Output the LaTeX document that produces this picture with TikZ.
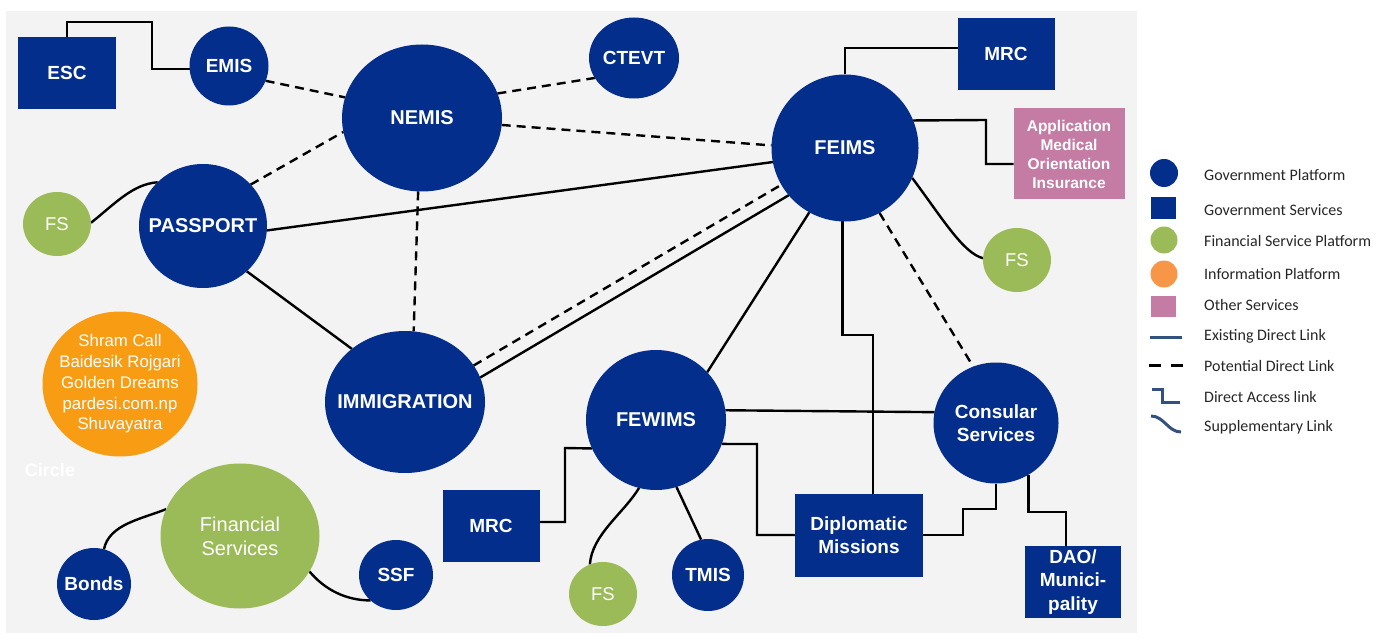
\documentclass[tikz,border=0pt]{standalone}
\usepackage{fontspec}
\setmainfont{Liberation Sans}
\newfontfamily\legfont{Carlito}
\usetikzlibrary{shapes.geometric}
\definecolor{navy}{RGB}{3,46,139}
\definecolor{fgreen}{RGB}{155,187,89}
\definecolor{infoorange}{RGB}{248,156,20}
\definecolor{legorange}{RGB}{247,150,70}
\definecolor{pinkbox}{RGB}{196,124,164}
\definecolor{bgc}{RGB}{244,243,243}
\definecolor{legnavy}{RGB}{51,80,128}
\definecolor{legtext}{RGB}{38,38,38}
\pgfdeclarelayer{bgl}
\pgfdeclarelayer{back}
\pgfsetlayers{bgl,back,main}
\tikzset{
  base/.style={inner sep=0pt, outer sep=0pt},
  gp/.style={base, ellipse, fill=navy},
  gs/.style={base, rectangle, fill=navy},
  fsp/.style={base, ellipse, fill=fgreen},
  ip/.style={base, ellipse, fill=infoorange},
  os/.style={base, rectangle, fill=pinkbox},
  navytxt/.style={text=white, font=\fontsize{19}{23.5}\selectfont\bfseries, align=center},
  bigtxt/.style={text=white, font=\fontsize{20}{24}\selectfont\bfseries, align=center},
  greentxt/.style={text=white, font=\fontsize{18.5}{22}\selectfont, align=center},
  fintxt/.style={text=white, font=\fontsize{20}{24}\selectfont, align=center},
  infotxt/.style={text=white, font=\fontsize{16.8}{20.8}\selectfont, align=center},
  pinktxt/.style={text=white, font=\fontsize{15.5}{19}\selectfont\bfseries, align=center},
  legtxt/.style={text=legtext, font=\legfont\fontsize{16}{19}\selectfont, anchor=west, inner sep=0pt},
  link/.style={draw=black, line width=2.4pt},
  pot/.style={draw=black, line width=2.4pt, dash pattern=on 9pt off 6pt},
  legline/.style={draw=legnavy, line width=3pt},
}
\begin{document}
\begin{tikzpicture}[x=1pt,y=-1pt]
\useasboundingbox (0,0) rectangle (1378,639);
\begin{pgfonlayer}{bgl}
\fill[bgc] (6,11) rectangle (1137,633);
\end{pgfonlayer}

% nodes
\node[gs, minimum width=98pt, minimum height=72pt, navytxt] (esc) at (67,73) {ESC};
\node[gp, minimum width=79pt, minimum height=79pt, label={[navytxt]center:EMIS}] (emis) at (229,66) {};
\node[gp, minimum width=160pt, minimum height=147pt, label={[bigtxt]center:NEMIS}] (nemis) at (422,118) {};
\node[gp, minimum width=90pt, minimum height=81pt, label={[navytxt]center:CTEVT}] (ctevt) at (634,58) {};
\node[gp, minimum width=128pt, minimum height=124pt, label={[bigtxt]center:PASSPORT}] (passport) at (203,226) {};
\node[fsp, minimum width=68pt, minimum height=64pt, label={[greentxt]center:FS}] (fsl) at (57,224) {};
\node[gp, minimum width=147pt, minimum height=147pt, label={[bigtxt]center:FEIMS}] (feims) at (845,148) {};
\node[gs, minimum width=97pt, minimum height=72pt, navytxt] (mrca) at (1006,54) {MRC};
\node[os, minimum width=111pt, minimum height=91pt, pinktxt] (pink) at (1069,154) {Application\\Medical\\Orientation\\Insurance};
\node[fsp, minimum width=68pt, minimum height=64pt, label={[greentxt]center:FS}] (fsr) at (1017,260) {};
\node[gp, minimum width=160pt, minimum height=142pt, label={[bigtxt]center:IMMIGRATION}] (imm) at (405,402) {};
\node[ip, minimum width=155pt, minimum height=145pt, label={[infotxt]center:Shram Call\\Baidesik Rojgari\\Golden Dreams\\pardesi.com.np\\Shuvayatra}] (info) at (120,384) {};
\node[text=white, font=\fontsize{18}{18}\selectfont\bfseries] (circletxt) at (50,470) {Circle};
\node[fsp, minimum width=159pt, minimum height=145pt, label={[fintxt]center:Financial\\Services}] (fin) at (240,536) {};
\node[gp, minimum width=74pt, minimum height=72pt, label={[navytxt]center:Bonds}] (bonds) at (94,584) {};
\node[gp, minimum width=74pt, minimum height=70pt, label={[navytxt]center:SSF}] (ssf) at (396,575) {};
\node[gs, minimum width=97pt, minimum height=72pt, navytxt] (mrcb) at (491,526) {MRC};
\node[gp, minimum width=140pt, minimum height=140pt, label={[bigtxt]center:FEWIMS}] (fewims) at (656,420) {};
\node[fsp, minimum width=68pt, minimum height=64pt, label={[greentxt]center:FS}] (fsb) at (603,594) {};
\node[gp, minimum width=72pt, minimum height=72pt, label={[navytxt]center:TMIS}] (tmis) at (708,575) {};
\node[gs, minimum width=128pt, minimum height=83pt, navytxt] (dip) at (859,535) {Diplomatic\\Missions};
\node[gp, minimum width=125pt, minimum height=121pt, label={[navytxt]center:Consular\\Services}] (cons) at (996,423) {};
\node[gs, minimum width=96pt, minimum height=72pt, navytxt] (dao) at (1073,582) {DAO/\\Munici-\\pality};

% connectors
\begin{pgfonlayer}{back}
\draw[link] (esc.north) |- (152,22) |- (emis.184);
\draw[pot] (emis.-22) -- (nemis.165);
\draw[pot] (nemis.18) -- (ctevt.207);
\draw[pot] (nemis.-5) -- (feims.178);
\draw[pot] (passport.41) -- (nemis.190);
\draw[link] (fsl.2) .. controls +(25,-20) and +(-25,2) .. (passport.136);
\draw[link] (passport.-4) -- (feims.191);
\draw[link] (passport.-46) -- (imm.135);
\draw[pot] (nemis.-93) -- (imm.83);
\draw[pot] (imm.28) -- (feims.210);
\draw[link] (imm.18) -- (feims.220);
\draw[link] (feims.241) -- (fewims.43);
\draw[link] (feims.268) |- (873,335) -- ([xshift=14pt]dip.north);
\draw[pot] (feims.-62) -- (cons.112);
\draw[link] (feims.north) |- ([yshift=6pt]mrca.west);
\draw[link] (feims.22) -- (986,120) |- ([yshift=-10pt]pink.west);
\draw[link] (feims.-24) .. controls +(30,40) and +(-20,-5) .. (fsr.177);
\draw[link] (fewims.8) -- (cons.170);
\draw[link] (fewims.-20) -- (757,444) |- (dip.west);
\draw[link] (dip.east) -| (963,509) -| (cons.south);
\draw[link] (cons.-58) |- (1066,512) -- ([xshift=-7pt]dao.north);
\draw[link] ([yshift=4pt]mrcb.east) -| (565,448) -- (fewims.204);
\draw[link] (fewims.256) .. controls +(-15,25) and +(2,-30) .. (fsb.114);
\draw[link] (fewims.-73) -- (tmis.101);
\draw[link] (bonds.74) .. controls +(5,-25) and +(-25,10) .. (fin.160);
\draw[link] (fin.-27) .. controls +(15,18) and +(-25,0) .. (ssf.225);
\end{pgfonlayer}

% legend
\node[base, circle, fill=navy, minimum size=28pt] (lg1) at (1164,173) {};
\node[legtxt] (lt1) at (1204,175) {Government Platform};
\node[base, rectangle, fill=navy, minimum width=25pt, minimum height=22pt] (lg2) at (1163.5,208) {};
\node[legtxt] (lt2) at (1204,210) {Government Services};
\node[base, circle, fill=fgreen, minimum size=27pt] (lg3) at (1164,240) {};
\node[legtxt] (lt3) at (1204,241) {Financial Service Platform};
\node[base, circle, fill=legorange, minimum size=27pt] (lg4) at (1164,274) {};
\node[legtxt] (lt4) at (1204,274) {Information Platform};
\node[base, rectangle, fill=pinkbox, minimum width=25pt, minimum height=21pt] (lg5) at (1163.5,306.5) {};
\node[legtxt] (lt5) at (1204,305) {Other Services};
\draw[legline] (1150,337) -- (1182,337);
\node[legtxt] (lt6) at (1204,336) {Existing Direct Link};
\draw[black, line width=3pt] (1149,365) -- (1161,365) (1171,365) -- (1183,365);
\node[legtxt] (lt7) at (1204,366) {Potential Direct Link};
\draw[legline] (1152,389) -- (1162,389) -- (1162,402) -- (1180,402);
\node[legtxt] (lt8) at (1204,397) {Direct Access link};
\draw[legline] (1151,416) .. controls (1164,416) and (1168,432) .. (1181,432);
\node[legtxt] (lt9) at (1204,427) {Supplementary Link};
\end{tikzpicture}
\end{document}
